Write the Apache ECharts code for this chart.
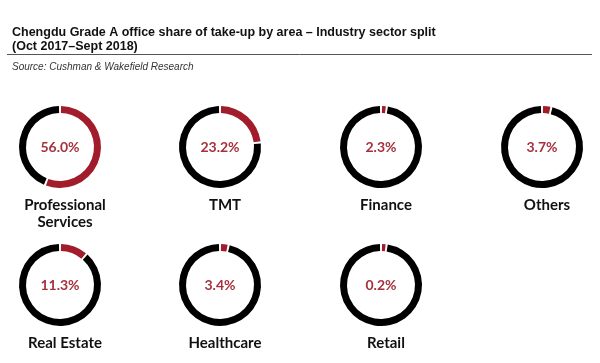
<!DOCTYPE html>
<html>
<head>
<meta charset="utf-8">
<script src="https://cdn.jsdelivr.net/npm/echarts@6/dist/echarts.min.js"></script>
<style>html,body{margin:0;padding:0;background:#fff;}#c{width:600px;height:363px;}</style>
</head>
<body>
<div id="c"></div>
<script>
const sectors = ['Professional\nServices', 'TMT', 'Finance', 'Others', 'Real Estate', 'Healthcare', 'Retail'];
const shares = [56.0, 23.2, 2.3, 3.7, 11.3, 3.4, 0.2];
const titleText = 'Chengdu Grade A office share of take-up by area \u2013 Industry sector split\n(Oct 2017\u2013Sept 2018)';
const sourceText = 'Source: Cushman & Wakefield Research';

const RED = '#a11d2b';
const colX = [60, 220, 381, 542];
const rowY = [147, 285];

const chart = echarts.init(document.getElementById('c'));
const series = [];
const titles = [
  {text: titleText, left: 7, top: 21, textStyle: {fontFamily: 'Liberation Sans, Arial', fontSize: 12.5, fontWeight: 'bold', color: '#111', lineHeight: 14}},
  {text: sourceText, left: 7, top: 57, textStyle: {fontFamily: 'Liberation Sans, Arial', fontSize: 10, fontStyle: 'italic', fontWeight: 'normal', color: '#333'}}
];
sectors.forEach((name, i) => {
  const cx = colX[i % 4];
  const cy = rowY[Math.floor(i / 4)];
  series.push({
    type: 'pie',
    silent: true,
    center: [cx, cy],
    radius: [34, 41],
    startAngle: 90,
    clockwise: true,
    padAngle: 3,
    minAngle: 5,
    avoidLabelOverlap: false,
    label: {show: false},
    labelLine: {show: false},
    data: [
      {value: shares[i], name: name, itemStyle: {color: RED},
       label: {show: true, position: 'center', formatter: shares[i].toFixed(1) + '%',
               fontFamily: 'Lato', fontSize: 14, fontWeight: 'bold', color: '#a6303c'}},
      {value: 100 - shares[i], name: 'rest', itemStyle: {color: '#000'}}
    ]
  });
  titles.push({
    text: name,
    left: cx,
    top: cy + 45,
    textAlign: 'center',
    textStyle: {fontFamily: 'Lato', fontSize: 15, fontWeight: 'bold', color: '#111', lineHeight: 17}
  });
});

chart.setOption({
  animation: false,
  title: titles,
  graphic: [{type: 'line', shape: {x1: 7, y1: 54.5, x2: 592, y2: 54.5}, style: {stroke: '#555', lineWidth: 1}}],
  series: series
});
</script>
</body>
</html>
